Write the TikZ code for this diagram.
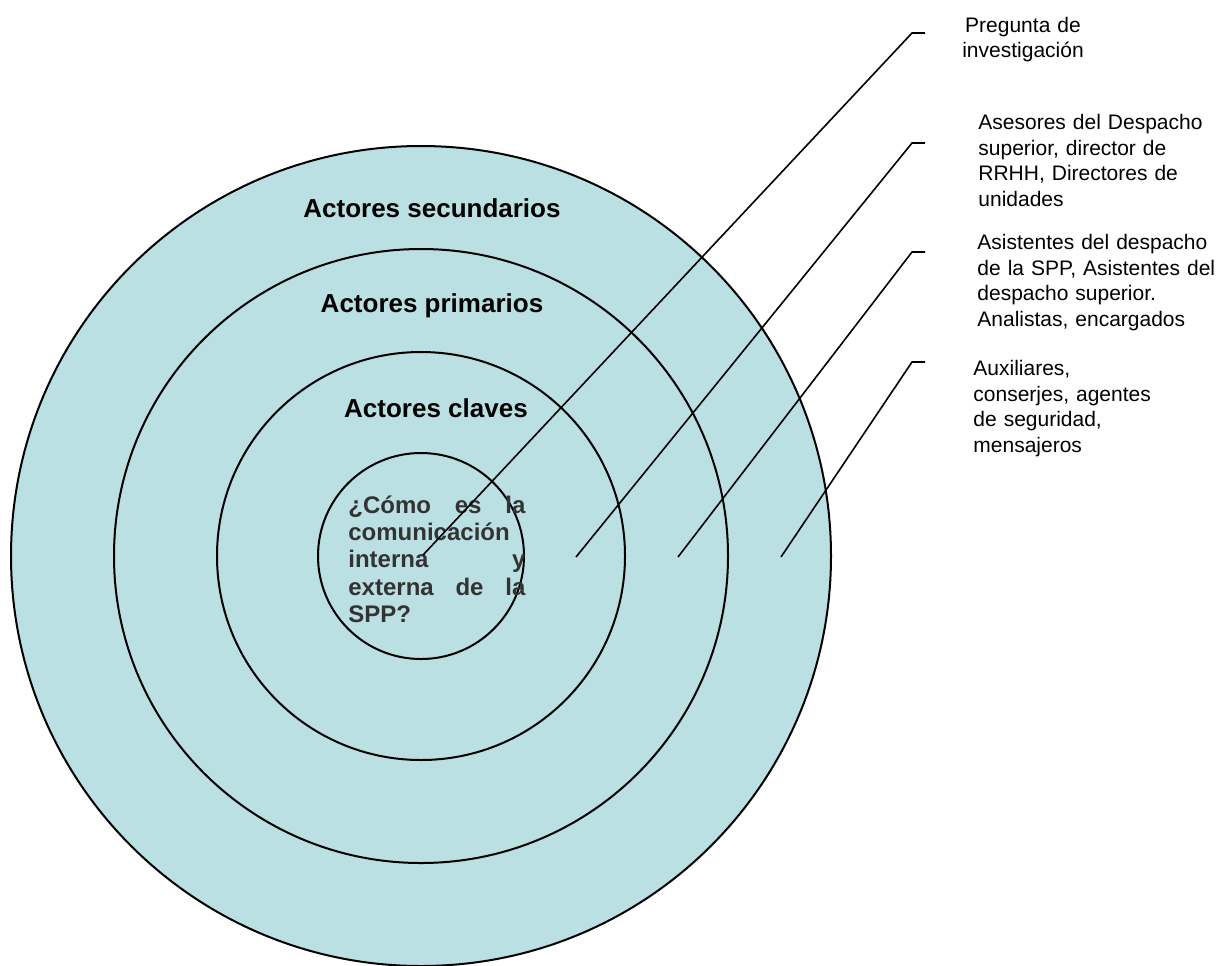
\documentclass[tikz,border=0pt]{standalone}
\usepackage{fontspec}
\setmainfont{Liberation Sans}
\definecolor{ringblue}{RGB}{186,224,227}
\definecolor{qgray}{RGB}{51,51,51}
\newcommand\myjline[1]{\leavevmode\hbox to 88.5pt{#1}}
\begin{document}
\begin{tikzpicture}[x=0.5pt,y=-0.5pt,
  ringnode/.style={circle, draw=black, line width=1pt, fill=ringblue, inner sep=0pt},
  lbl/.style={font=\bfseries\fontsize{13}{15.6}\selectfont, inner sep=0pt, anchor=base},
  side/.style={font=\fontsize{10.5}{12.85}\selectfont, inner sep=0pt, anchor=base west, text width=135pt, align=left},
  qtext/.style={font=\bfseries\fontsize{12}{13.6}\selectfont, text=qgray, inner sep=0pt, anchor=base west, text width=88.5pt, align=left},
  leader/.style={draw=black, line width=0.8pt}
]
\useasboundingbox (0,0) rectangle (1220,965);
% rings
\node[ringnode, minimum size=410pt] (c4) at (421,556) {};
\node[ringnode, minimum size=307pt] (c3) at (421,556) {};
\node[ringnode, minimum size=204pt] (c2) at (421,556) {};
\node[ringnode, minimum size=103pt] (c1) at (421,556) {};
% ring labels
\node[lbl] (ls) at (432,217.5) {Actores secundarios};
\node[lbl] (lp) at (432,312.5) {Actores primarios};
\node[lbl] (lc) at (436,417.5) {Actores claves};
% question
\node[qtext] (q) at (348,513.5) {\myjline{¿Cómo\hfill es\hfill la}\\
comunicación\\
\myjline{interna\hfill y}\\
\myjline{externa\hfill de\hfill la}\\
SPP?};
% side texts
\node[font=\fontsize{10.5}{12.5}\selectfont, inner sep=0pt, anchor=base, text width=70pt, align=center] (t1) at (1023,32.5) {Pregunta de\\ investigación};
\node[side] (t2) at (978,129.5) {Asesores del Despacho\\ superior, director de\\ RRHH, Directores de\\ unidades};
\node[side] (t3) at (977,249.5) {Asistentes del despacho\\ de la SPP, Asistentes del\\ despacho superior.\\ Analistas, encargados};
\node[side] (t4) at (973,375.5) {Auxiliares,\\ conserjes, agentes\\ de seguridad,\\ mensajeros};
% leaders
\coordinate (p1) at (423,555);
\coordinate (k1) at (912,33);
\coordinate (e1) at (925,33);
\coordinate (p2) at (576,557);
\coordinate (k2) at (912,143);
\coordinate (e2) at (925,143);
\coordinate (p3) at (678,557);
\coordinate (k3) at (912,252);
\coordinate (e3) at (925,252);
\coordinate (p4) at (781,557);
\coordinate (k4) at (912,362);
\coordinate (e4) at (925,362);
\draw[leader] (p1) -- (k1) -- (e1);
\draw[leader] (p2) -- (k2) -- (e2);
\draw[leader] (p3) -- (k3) -- (e3);
\draw[leader] (p4) -- (k4) -- (e4);
\end{tikzpicture}
\end{document}
